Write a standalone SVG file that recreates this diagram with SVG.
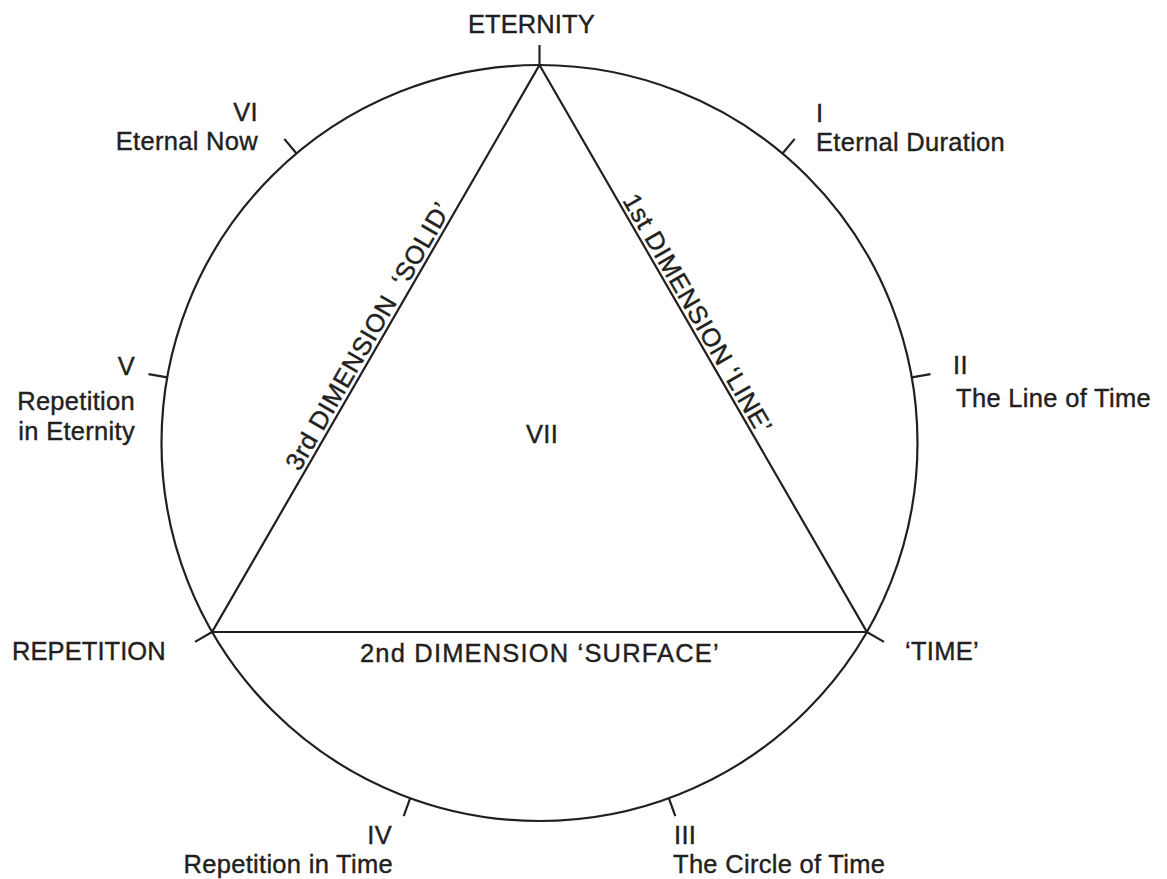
<svg xmlns="http://www.w3.org/2000/svg" width="1167" height="879" viewBox="0 0 1167 879">
<style>
  .ln { fill: none; stroke: #231f20; stroke-width: 2.2; stroke-linecap: butt; stroke-linejoin: miter; }
  .t { font-family: "Liberation Sans", Arial, Helvetica, sans-serif; font-size: 25.5px; letter-spacing: 0.3px; fill: #231f20; stroke: #231f20; stroke-width: 0.4px; }
  .e { text-anchor: end; }
  .m { text-anchor: middle; }
</style>
<rect width="1167" height="879" fill="#ffffff"/>
<g id="circle-of-time">
  <circle class="ln" cx="539.5" cy="443" r="378"/>
</g>
<g id="triangle">
  <polygon class="ln" points="539.5,65 866.9,632 212.1,632"/>
</g>
<g id="connectors">
  <line class="ln" x1="539.5" y1="65" x2="539.5" y2="45"/>
  <line class="ln" x1="782.5" y1="153.5" x2="794.7" y2="138.9"/>
  <line class="ln" x1="911.8" y1="377.4" x2="930.5" y2="374.1"/>
  <line class="ln" x1="866.9" y1="632" x2="884" y2="641.9"/>
  <line class="ln" x1="668.8" y1="798.2" x2="675.3" y2="816.1"/>
  <line class="ln" x1="410.2" y1="798.2" x2="403.7" y2="816.1"/>
  <line class="ln" x1="212.1" y1="632" x2="195" y2="641.9"/>
  <line class="ln" x1="167.2" y1="377.4" x2="148.5" y2="374.1"/>
  <line class="ln" x1="296.5" y1="153.5" x2="284.3" y2="138.9"/>
</g>
<g id="eternity">
  <text class="t" x="468" y="33" textLength="127">ETERNITY</text>
</g>
<g id="repetition">
  <text class="t" x="12" y="660" textLength="154">REPETITION</text>
</g>
<g id="time">
  <text class="t" x="905" y="660">‘TIME’</text>
</g>
<g id="node-I">
  <text class="t" x="816" y="121.5">I</text>
  <text class="t" x="816" y="151">Eternal Duration</text>
</g>
<g id="node-II">
  <text class="t" x="953" y="373.5">II</text>
  <text class="t" x="956" y="406.5" textLength="195">The Line of Time</text>
</g>
<g id="node-III">
  <text class="t" x="674" y="843.5">III</text>
  <text class="t" x="673" y="873">The Circle of Time</text>
</g>
<g id="node-IV">
  <text class="t e" x="392" y="843.5">IV</text>
  <text class="t e" x="393" y="873">Repetition in Time</text>
</g>
<g id="node-V">
  <text class="t e" x="135" y="375">V</text>
  <text class="t e" x="135" y="410">Repetition</text>
  <text class="t e" x="135" y="440">in Eternity</text>
</g>
<g id="node-VI">
  <text class="t e" x="258" y="120.5">VI</text>
  <text class="t e" x="258" y="150">Eternal Now</text>
</g>
<g id="node-VII">
  <text class="t" x="526" y="442.5">VII</text>
</g>
<g id="dimension-1">
  <text class="t m" x="690" y="318" transform="rotate(60 690 318)" textLength="272">1st DIMENSION ‘LINE’</text>
</g>
<g id="dimension-2">
  <text class="t" x="360" y="661.5" textLength="359">2nd DIMENSION ‘SURFACE’</text>
</g>
<g id="dimension-3">
  <text class="t m" x="375.5" y="340.5" transform="rotate(-60 375.5 340.5)" textLength="304" xml:space="preserve">3rd DIMENSION  ‘SOLID’</text>
</g>
</svg>
